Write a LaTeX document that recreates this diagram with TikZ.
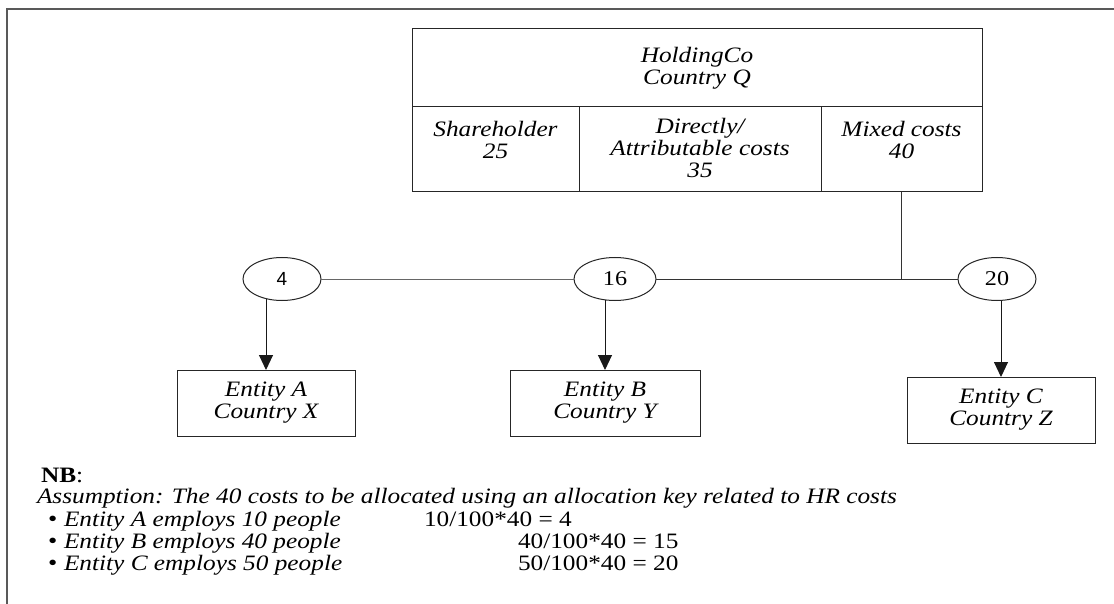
\documentclass[tikz,border=0pt]{standalone}
\usepackage{fontspec}
\setmainfont{Liberation Serif}[FakeStretch=1.15]
\newfontfamily\numsans{Liberation Sans}
\usetikzlibrary{shapes.geometric,arrows.meta}
\begin{document}
\begin{tikzpicture}[x=1pt,y=-1pt,
  every node/.style={inner sep=0pt,outer sep=0pt},
  ln/.style={line width=1pt, draw=black!80},
  cellbox/.style={draw=black!85, line width=1pt, rectangle},
  oval/.style={draw=black!85, line width=1pt, ellipse, minimum height=43pt, font=\fontsize{21}{21}\selectfont},
  ent/.style={draw=black!85, line width=1pt, rectangle, minimum height=66pt, align=center, font=\fontsize{22}{22}\selectfont\itshape},
  txt/.style={align=center, font=\fontsize{22}{22}\selectfont\itshape},
  plain/.style={font=\fontsize{22}{22}\selectfont},
  dotmark/.style={font=\fontsize{23}{23}\selectfont},
  arr/.style={ln, draw=black!90, -{Triangle[length=15pt,width=14pt]}},
]
\useasboundingbox (0,0) rectangle (1114,604);
\draw[line width=2pt, draw=black!65] (7,604) -- (7,9.5) -- (1114,9.5);

% top box
\node[cellbox, minimum width=570pt, minimum height=78pt, txt] (hold) at (697,68) {HoldingCo\\Country Q};
\node[cellbox, minimum width=167pt, minimum height=85pt] (c1) at (495.5,149.5) {};
\node[cellbox, minimum width=242pt, minimum height=85pt] (c2) at (700,149.5) {};
\node[cellbox, minimum width=161pt, minimum height=85pt] (c3) at (901.5,149.5) {};
\node[txt, anchor=north] (t1) at (495.5,121) {Shareholder\\25};
\node[txt, anchor=north] (t2) at (700,118) {Directly/\\Attributable costs\\35};
\node[txt, anchor=north] (t3) at (901.5,121) {Mixed costs\\40};

% ellipses
\node[oval, minimum width=78pt] (e4) at (282,279) {\numsans\fontsize{19}{19}\selectfont 4};
\node[oval, minimum width=82pt] (e16) at (615,279) {16};
\node[oval, minimum width=78pt] (e20) at (997,279) {20};
\coordinate (j) at (c3.south |- e20.west);
\draw[ln, draw=black!60] (e4.east) -- (e16.west);
\draw[ln] (e16.east) -- (e20.west);
\draw[ln] (c3.south) -- (j);

% entities
\node[ent, minimum width=178pt] (A) at (266,403) {Entity A\\Country X};
\node[ent, minimum width=190pt] (B) at (605,403) {Entity B\\Country Y};
\node[ent, minimum width=188pt] (C) at (1001,410) {Entity C\\Country Z};
\draw[arr] (A.north |- e4.231) -- (A.north);
\draw[arr] (B.north |- e16.244) -- (B.north);
\draw[arr] (C.north |- e20.south) -- (C.north);

% notes
\node[anchor=base west, plain] (nb) at (41,482) {\textbf{NB}:};
\node[anchor=base west, txt] (as) at (37,503) {Assumption: The 40 costs to be allocated using an allocation key related to HR costs};
\node[anchor=base west, dotmark] (b1) at (48,526) {•};
\node[anchor=base west, dotmark] (b2) at (48,548) {•};
\node[anchor=base west, dotmark] (b3) at (48,570) {•};
\node[anchor=base west, txt] (l1) at (64,526) {Entity A employs 10 people};
\node[anchor=base west, txt] (l2) at (64,548) {Entity B employs 40 people};
\node[anchor=base west, txt] (l3) at (64,570) {Entity C employs 50 people};
\node[anchor=base west, plain] (k1) at (424,526) {10/100*40 = 4};
\node[anchor=base west, plain] (k2) at (518,548) {40/100*40 = 15};
\node[anchor=base west, plain] (k3) at (518,570) {50/100*40 = 20};
\end{tikzpicture}
\end{document}
